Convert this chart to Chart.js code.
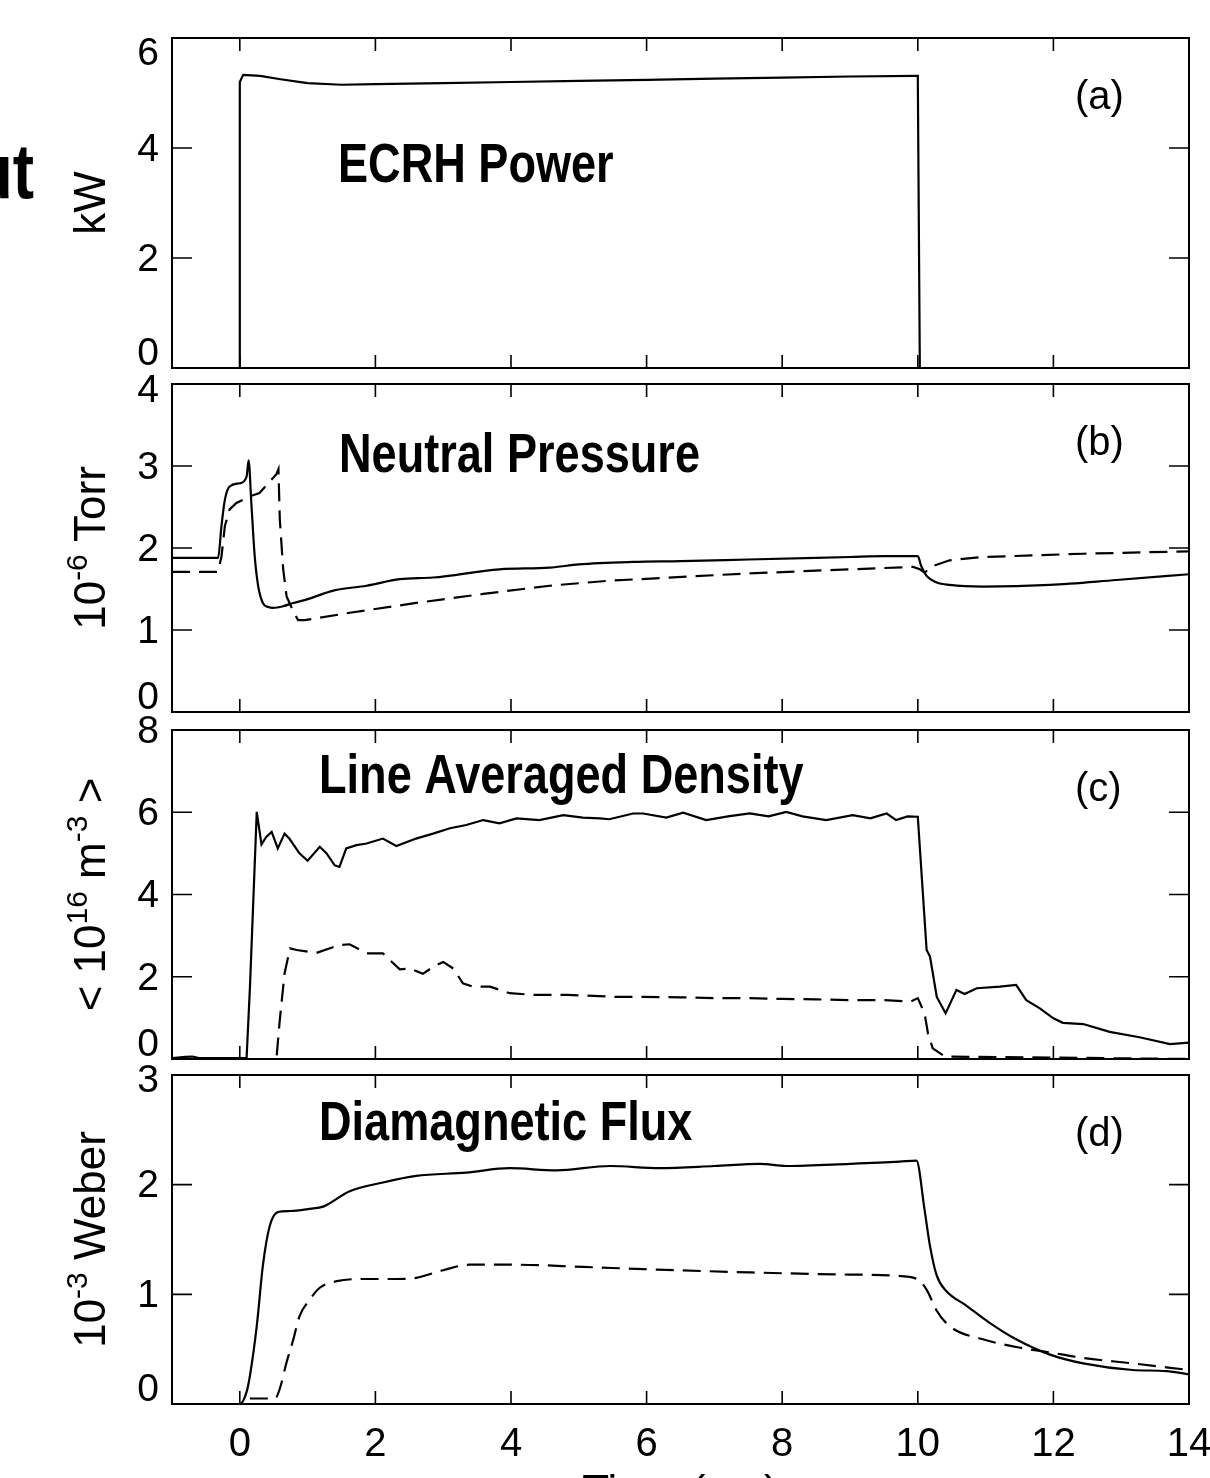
<!DOCTYPE html>
<html>
<head>
<meta charset="utf-8">
<script src="https://cdn.jsdelivr.net/npm/chart.js@4.4.1/dist/chart.umd.min.js"></script>
<style>
  html, body { margin: 0; padding: 0; background: #fff; }
  #wrap { position: relative; width: 1210px; height: 1478px; overflow: hidden; }
  canvas { position: absolute; left: 0; }
</style>
</head>
<body>
<div id="wrap">
  <canvas id="panelA" width="1210" height="376" style="top:0px"></canvas>
  <canvas id="panelB" width="1210" height="371" style="top:350px"></canvas>
  <canvas id="panelC" width="1210" height="367" style="top:700px"></canvas>
  <canvas id="panelD" width="1210" height="433" style="top:1045px"></canvas>
</div>
<script>
// shared time axis (ms)
const xTicks = [0, 2, 4, 6, 8, 10, 12, 14];

// (a) ECRH power, kW
const yTicksA = [0, 2, 4, 6];
const ecrhTime  = [-0.81, -0.01, 0.0, 0.05, 0.3, 0.6, 1.0, 1.5, 2.0, 3.0, 4.0, 5.0, 6.0, 7.0, 8.0, 9.0, 9.98, 10.0, 10.03, 12.28];
const ecrhPower = [0, 0, 5.2, 5.33, 5.31, 5.25, 5.18, 5.15, 5.16, 5.18, 5.2, 5.22, 5.24, 5.26, 5.28, 5.3, 5.31, 5.31, 0, 0];

// (b) neutral pressure, 1e-6 Torr
const yTicksB = [0, 1, 2, 3, 4];
const pressTimeSolid = [-1, -0.32, -0.27, -0.22, -0.15, 0, 0.1, 0.13, 0.17, 0.22, 0.27, 0.34, 0.42, 0.49, 0.64, 0.79, 0.98, 1.38, 1.87, 2.36, 2.85, 3.83, 4.57, 5.0, 5.8, 6.5, 7.5, 8.5, 9.0, 9.5, 10.0, 10.05, 10.13, 10.28, 10.47, 10.96, 11.95, 12.93, 14];
const pressSolid     = [1.88, 1.88, 2.27, 2.59, 2.75, 2.79, 2.87, 3.07, 2.55, 1.90, 1.54, 1.33, 1.28, 1.27, 1.29, 1.33, 1.37, 1.48, 1.54, 1.62, 1.64, 1.74, 1.76, 1.80, 1.83, 1.84, 1.86, 1.88, 1.89, 1.90, 1.90, 1.78, 1.66, 1.58, 1.55, 1.53, 1.55, 1.61, 1.68];
const pressTimeDash  = [-1, -0.32, -0.27, -0.22, -0.15, -0.05, 0.15, 0.29, 0.54, 0.57, 0.59, 0.64, 0.69, 0.8, 0.86, 0.96, 1.62, 2.6, 3.59, 4.57, 5.43, 7.5, 9.0, 9.93, 10.03, 10.1, 10.22, 10.47, 10.96, 12.44, 14];
const pressDash      = [1.71, 1.71, 1.90, 2.27, 2.47, 2.55, 2.63, 2.67, 2.90, 2.96, 2.35, 1.74, 1.41, 1.21, 1.12, 1.12, 1.21, 1.33, 1.44, 1.54, 1.60, 1.69, 1.74, 1.77, 1.74, 1.70, 1.78, 1.85, 1.89, 1.93, 1.96];

// (c) line averaged density, 1e16 m^-3
const yTicksC = [0, 2, 4, 6, 8];
const densTimeSolid = [-1, -0.8, -0.7, -0.6, 0.1, 0.15, 0.25, 0.32, 0.39, 0.47, 0.56, 0.66, 0.73, 0.88, 1.0, 1.18, 1.28, 1.4, 1.47, 1.57, 1.72, 1.87, 2.11, 2.31, 2.6, 2.85, 3.1, 3.34, 3.59, 3.83, 4.08, 4.42, 4.77, 5.06, 5.31, 5.45, 5.8, 5.95, 6.29, 6.54, 6.88, 7.2, 7.52, 7.8, 8.06, 8.3, 8.65, 9.04, 9.3, 9.54, 9.68, 9.85, 10.0, 10.13, 10.18, 10.28, 10.41, 10.57, 10.69, 10.87, 11.21, 11.45, 11.6, 11.8, 12.0, 12.14, 12.44, 12.83, 13.27, 13.72, 14.0];
const densSolid     = [0.02, 0.05, 0.06, 0.02, 0.02, 1.76, 6.01, 5.22, 5.40, 5.52, 5.12, 5.48, 5.36, 5.0, 4.82, 5.16, 5.0, 4.71, 4.67, 5.12, 5.2, 5.24, 5.36, 5.18, 5.36, 5.48, 5.61, 5.69, 5.81, 5.73, 5.85, 5.81, 5.93, 5.87, 5.85, 5.83, 5.97, 5.97, 5.87, 5.99, 5.81, 5.9, 5.97, 5.9, 6.01, 5.9, 5.81, 5.93, 5.85, 5.97, 5.81, 5.9, 5.89, 2.65, 2.49, 1.51, 1.11, 1.68, 1.58, 1.72, 1.76, 1.80, 1.43, 1.23, 0.99, 0.88, 0.85, 0.66, 0.53, 0.36, 0.40];
const densTimeDash  = [-1, 0.54, 0.59, 0.66, 0.74, 0.84, 1.13, 1.47, 1.62, 1.87, 2.11, 2.21, 2.36, 2.51, 2.7, 2.85, 3.0, 3.15, 3.29, 3.44, 3.69, 3.98, 4.33, 4.82, 5.56, 5.95, 6.5, 7.0, 7.5, 8.0, 8.5, 9.0, 9.5, 9.9, 10.0, 10.1, 10.15, 10.22, 10.4, 14];
const densDash      = [0, 0, 0.95, 2.08, 2.69, 2.65, 2.58, 2.77, 2.79, 2.57, 2.57, 2.41, 2.18, 2.2, 2.07, 2.24, 2.36, 2.2, 1.84, 1.76, 1.76, 1.60, 1.56, 1.56, 1.51, 1.51, 1.5, 1.48, 1.48, 1.46, 1.45, 1.43, 1.43, 1.40, 1.48, 1.11, 0.62, 0.26, 0.06, 0.0];

// (d) diamagnetic flux, 1e-3 Weber
const yTicksD = [0, 1, 2, 3];
const fluxTimeSolid = [-1, 0.0, 0.1, 0.15, 0.25, 0.34, 0.44, 0.56, 0.74, 1.03, 1.23, 1.62, 2.11, 2.6, 3.34, 3.98, 4.67, 5.46, 6.19, 7.0, 7.67, 8.06, 9.0, 9.73, 9.98, 10.1, 10.18, 10.28, 10.42, 10.71, 11.06, 11.45, 11.95, 12.44, 13.17, 13.67, 14.0];
const fluxSolid     = [0, 0, 0.11, 0.26, 0.71, 1.26, 1.62, 1.75, 1.76, 1.78, 1.80, 1.94, 2.02, 2.08, 2.11, 2.15, 2.13, 2.17, 2.15, 2.17, 2.19, 2.17, 2.19, 2.21, 2.22, 1.77, 1.44, 1.17, 1.03, 0.90, 0.74, 0.59, 0.45, 0.37, 0.31, 0.30, 0.27];
const fluxTimeDash  = [-1, 0.1, 0.15, 0.25, 0.52, 0.59, 0.69, 0.79, 0.88, 1.03, 1.18, 1.43, 1.87, 2.31, 2.6, 3.0, 3.39, 4.08, 5.06, 5.95, 7.52, 9.0, 9.88, 10.05, 10.15, 10.27, 10.47, 10.96, 11.45, 11.95, 12.44, 13.17, 14.0];
const fluxDash      = [0, 0, 0.05, 0.05, 0.05, 0.14, 0.38, 0.59, 0.80, 0.95, 1.06, 1.12, 1.14, 1.14, 1.15, 1.22, 1.27, 1.27, 1.25, 1.23, 1.20, 1.18, 1.16, 1.11, 1.02, 0.86, 0.71, 0.59, 0.52, 0.47, 0.42, 0.37, 0.31];

const FONT = '"Liberation Sans", Arial, Helvetica, sans-serif';
Chart.defaults.font.family = FONT;
Chart.defaults.color = '#000';

function pts(xs, ys) {
  return xs.map((x, i) => ({ x: x, y: ys[i] }));
}

// frame, inside ticks, tick labels and annotations
const framePlugin = {
  id: 'frame',
  afterDraw(chart, args, o) {
    const { ctx, chartArea: a, scales: { x, y } } = chart;
    ctx.save();
    ctx.strokeStyle = '#000';
    ctx.lineWidth = 1.6;
    ctx.beginPath();
    xTicks.forEach(v => {
      const px = x.getPixelForValue(v);
      ctx.moveTo(px, a.top); ctx.lineTo(px, a.top + 13);
      ctx.moveTo(px, a.bottom); ctx.lineTo(px, a.bottom - 13);
    });
    o.yTicks.forEach(v => {
      const py = y.getPixelForValue(v);
      ctx.moveTo(a.left, py); ctx.lineTo(a.left + 20, py);
      ctx.moveTo(a.right, py); ctx.lineTo(a.right - 20, py);
    });
    ctx.stroke();
    ctx.lineWidth = 2;
    ctx.strokeRect(a.left, a.top, a.right - a.left, a.bottom - a.top);

    // y tick labels, kept inside the panel height
    ctx.fillStyle = '#000';
    ctx.font = '39px ' + FONT;
    ctx.textAlign = 'right';
    ctx.textBaseline = 'middle';
    const n = o.yTicks.length;
    o.yTicks.forEach((v, i) => {
      let py = y.getPixelForValue(v);
      if (i === 0) py = Math.min(py, a.bottom - 14);
      else if (i === n - 1) py = Math.max(py, a.top + o.topShift);
      else py += 2;
      ctx.fillText(String(v), a.left - 13, py);
    });

    // bold condensed panel title
    ctx.save();
    ctx.font = 'bold 55px ' + FONT;
    ctx.textAlign = 'left';
    ctx.textBaseline = 'alphabetic';
    ctx.translate(o.titleX, a.top + o.titleDy);
    ctx.scale(0.82, 1);
    ctx.fillText(o.title, 0, 0);
    ctx.restore();

    // panel tag
    ctx.font = '40px ' + FONT;
    ctx.textAlign = 'left';
    ctx.textBaseline = 'middle';
    ctx.fillText(o.tag, 1075, a.top + 60);

    // rotated y title with superscripts
    ctx.save();
    ctx.translate(105, (a.top + a.bottom) / 2);
    ctx.rotate(-Math.PI / 2);
    ctx.textAlign = 'left';
    ctx.textBaseline = 'alphabetic';
    const big = '44px ' + FONT, small = '30px ' + FONT;
    let total = 0;
    o.yTitle.forEach(s => { ctx.font = s.sup ? small : big; total += ctx.measureText(s.t).width; });
    let u = -total / 2;
    o.yTitle.forEach(s => {
      ctx.font = s.sup ? small : big;
      ctx.fillText(s.t, u, s.sup ? -18 : 0);
      u += ctx.measureText(s.t).width;
    });
    ctx.restore();

    if (o.side) {
      ctx.save();
      ctx.font = 'bold 78px ' + FONT;
      ctx.textAlign = 'right';
      ctx.textBaseline = 'alphabetic';
      ctx.translate(34, 198);
      ctx.scale(0.82, 1);
      ctx.fillText(o.side, 0, 0);
      ctx.restore();
    }
    ctx.restore();
  }
};

function makePanel(id, cfg) {
  const datasets = cfg.series.map(s => ({
    data: pts(s.x, s.y),
    borderColor: '#000',
    borderWidth: 2.2,
    borderDash: s.dash ? [18, 9] : [],
    pointRadius: 0,
    tension: 0,
    cubicInterpolationMode: s.smooth ? 'monotone' : 'default',
    fill: false
  }));
  const xAxis = {
    type: 'linear', min: -1, max: 14,
    display: !!cfg.showX,
    grid: { display: false, drawTicks: false },
    border: { display: false },
    afterBuildTicks: s => { s.ticks = xTicks.map(v => ({ value: v })); },
    ticks: { autoSkip: false, maxRotation: 0, padding: 17, font: { size: 40 } },
    title: { display: !!cfg.showX, text: 'Time (ms)', font: { size: 44 }, padding: { top: 0, bottom: -42 } },
    afterFit: s => { if (cfg.showX) { s.height = 74; s.paddingLeft = 0; s.paddingRight = 0; } }
  };
  return new Chart(document.getElementById(id), {
    type: 'line',
    data: { datasets },
    options: {
      responsive: false,
      animation: false,
      events: [],
      layout: { padding: { left: 172, right: 21, top: cfg.padTop, bottom: cfg.padBottom } },
      scales: {
        x: xAxis,
        y: { type: 'linear', min: cfg.yTicks[0], max: cfg.yTicks[cfg.yTicks.length - 1], display: false }
      },
      plugins: {
        legend: { display: false },
        tooltip: { enabled: false },
        frame: cfg.frame
      }
    },
    plugins: [framePlugin]
  });
}

makePanel('panelA', {
  padTop: 38, padBottom: 8, yTicks: yTicksA,
  series: [{ x: ecrhTime, y: ecrhPower }],
  frame: { yTicks: yTicksA, topShift: 16, title: 'ECRH Power', titleX: 338, titleDy: 144, tag: '(a)',
           yTitle: [{ t: 'kW' }], side: 'Input' }
});

makePanel('panelB', {
  padTop: 34, padBottom: 9, yTicks: yTicksB,
  series: [{ x: pressTimeSolid, y: pressSolid, smooth: true }, { x: pressTimeDash, y: pressDash, dash: true }],
  frame: { yTicks: yTicksB, topShift: 7, title: 'Neutral Pressure', titleX: 339, titleDy: 88, tag: '(b)',
           yTitle: [{ t: '10' }, { t: '-6', sup: true }, { t: ' Torr' }] }
});

makePanel('panelC', {
  padTop: 30, padBottom: 8, yTicks: yTicksC,
  series: [{ x: densTimeSolid, y: densSolid }, { x: densTimeDash, y: densDash, dash: true }],
  frame: { yTicks: yTicksC, topShift: 2, title: 'Line Averaged Density', titleX: 319, titleDy: 63, tag: '(c)',
           yTitle: [{ t: '< 10' }, { t: '16', sup: true }, { t: ' m' }, { t: '-3', sup: true }, { t: ' >' }] }
});

makePanel('panelD', {
  padTop: 30, padBottom: 0, yTicks: yTicksD, showX: true,
  series: [{ x: fluxTimeSolid, y: fluxSolid, smooth: true }, { x: fluxTimeDash, y: fluxDash, dash: true, smooth: true }],
  frame: { yTicks: yTicksD, topShift: 6, title: 'Diamagnetic Flux', titleX: 319, titleDy: 65, tag: '(d)',
           yTitle: [{ t: '10' }, { t: '-3', sup: true }, { t: ' Weber' }] }
});
</script>
</body>
</html>
